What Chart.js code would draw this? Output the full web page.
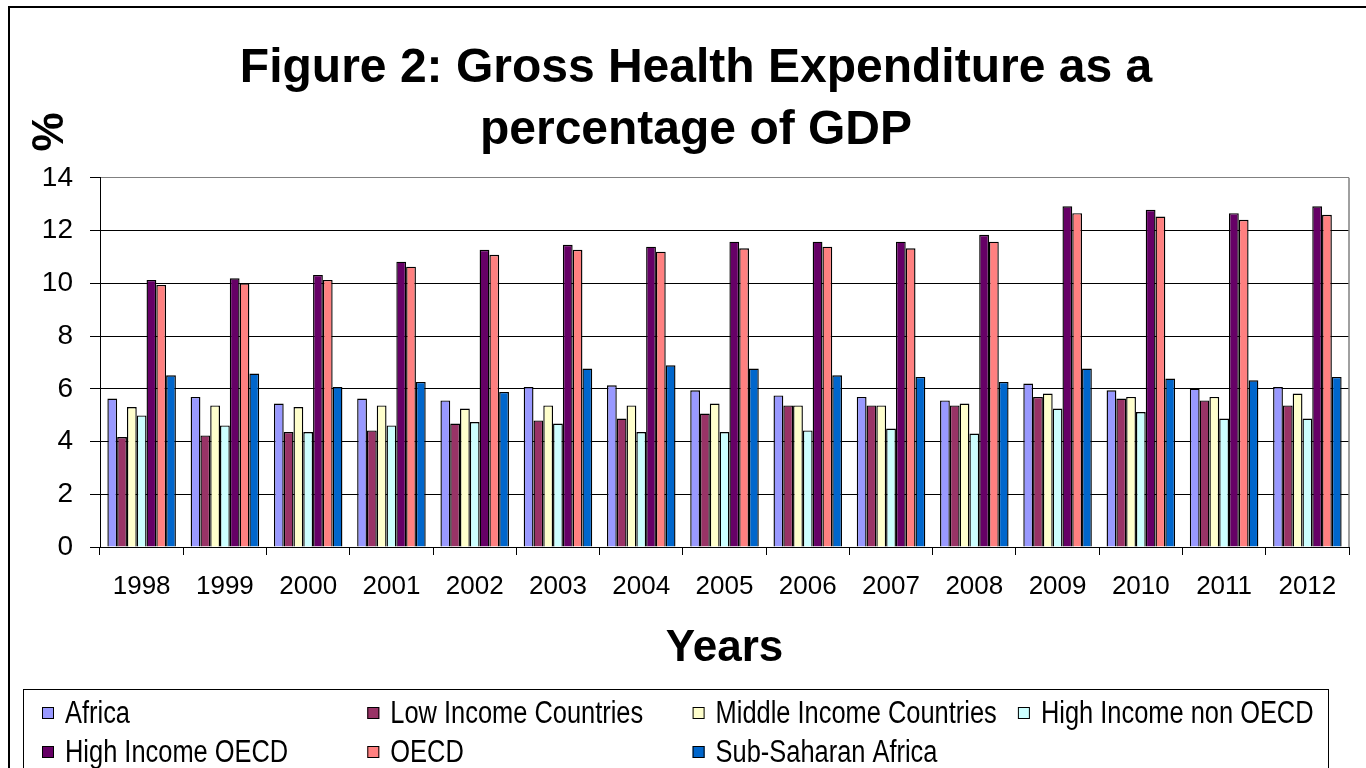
<!DOCTYPE html>
<html lang="en">
<head>
    <meta charset="UTF-8">
    <title>Gross Health Expenditure as a percentage of GDP</title>
    <script src="https://cdn.jsdelivr.net/npm/chart.js@4"></script>
    <style>
        body { margin: 0; background: #fff; }
        canvas { display: block; }
    </style>
</head>
<body>
    <canvas id="healthChart" width="1366" height="768"></canvas>

    <script>
        const FONT = "'Liberation Sans', Arial, sans-serif";

        // health expenditure, % of GDP
        const years = ['1998', '1999', '2000', '2001', '2002', '2003', '2004', '2005',
                       '2006', '2007', '2008', '2009', '2010', '2011', '2012'];
        const africa       = [5.63, 5.69, 5.44, 5.63, 5.56, 6.07, 6.13, 5.94, 5.75, 5.69, 5.56, 6.20, 5.94, 6.01, 6.07];
        const lowIncome    = [4.17, 4.23, 4.36, 4.42, 4.68, 4.80, 4.87, 5.06, 5.37, 5.37, 5.37, 5.69, 5.63, 5.56, 5.37];
        const middleIncome = [5.31, 5.37, 5.31, 5.37, 5.25, 5.37, 5.37, 5.44, 5.37, 5.37, 5.44, 5.82, 5.69, 5.69, 5.82];
        const highNonOecd  = [4.99, 4.61, 4.36, 4.61, 4.74, 4.68, 4.36, 4.36, 4.42, 4.49, 4.30, 5.25, 5.12, 4.87, 4.87];
        const highOecd     = [10.13, 10.19, 10.32, 10.82, 11.27, 11.46, 11.39, 11.58, 11.58, 11.58, 11.84, 12.92, 12.79, 12.66, 12.92];
        const oecd         = [9.94, 10.00, 10.13, 10.63, 11.08, 11.27, 11.20, 11.33, 11.39, 11.33, 11.58, 12.66, 12.53, 12.41, 12.60];
        const subSaharan   = [6.51, 6.58, 6.07, 6.26, 5.88, 6.77, 6.89, 6.77, 6.51, 6.45, 6.26, 6.77, 6.39, 6.32, 6.45];

        function bars(label, data, color) {
            return {
                label: label,
                data: data,
                backgroundColor: color,
                borderColor: '#000',
                borderWidth: 1.4,
                barPercentage: 1,
                categoryPercentage: 0.823
            };
        }

        // white background plus the outer frame line
        const framePlugin = {
            id: 'frame',
            beforeDraw(chart) {
                const ctx = chart.ctx;
                ctx.save();
                ctx.fillStyle = '#fff';
                ctx.fillRect(0, 0, chart.width, chart.height);
                ctx.strokeStyle = '#000';
                ctx.lineWidth = 2;
                ctx.beginPath();
                ctx.moveTo(9, chart.height + 5);
                ctx.lineTo(9, 7);
                ctx.lineTo(chart.width + 5, 7);
                ctx.stroke();
                ctx.restore();
            },
            beforeDatasetsDraw(chart) {
                // grey right edge of the plot area
                const { ctx, chartArea } = chart;
                ctx.save();
                ctx.strokeStyle = '#808080';
                ctx.lineWidth = 1.5;
                ctx.beginPath();
                ctx.moveTo(chartArea.right, chartArea.top);
                ctx.lineTo(chartArea.right, chartArea.bottom);
                ctx.stroke();
                ctx.restore();
            },
            afterDraw(chart) {
                // "%" unit label, rotated, at the top of the value axis
                const ctx = chart.ctx;
                ctx.save();
                ctx.translate(51, 132);
                ctx.rotate(-Math.PI / 2);
                ctx.font = 'bold 44px ' + FONT;
                ctx.fillStyle = '#000';
                ctx.textAlign = 'center';
                ctx.textBaseline = 'middle';
                ctx.fillText('%', 0, 0);
                ctx.restore();
            }
        };

        // boxed legend laid out in four columns
        const boxLegend = {
            id: 'boxLegend',
            afterDraw(chart) {
                const ctx = chart.ctx;
                ctx.save();
                ctx.strokeStyle = '#000';
                ctx.lineWidth = 1;
                ctx.strokeRect(23.5, 689.5, 1305, 120);
                ctx.font = '31px ' + FONT;
                ctx.textBaseline = 'middle';
                chart.data.datasets.forEach((ds, i) => {
                    const x = 42 + (i % 4) * 325.3;
                    const y = 713 + Math.floor(i / 4) * 39;
                    ctx.fillStyle = ds.backgroundColor;
                    ctx.fillRect(x, y - 6, 12, 12);
                    ctx.strokeRect(x + 0.5, y - 5.5, 11, 11);
                    ctx.save();
                    ctx.translate(x + 23, y + 1);
                    ctx.scale(0.82, 1);
                    ctx.fillStyle = '#000';
                    ctx.fillText(ds.label, 0, 0);
                    ctx.restore();
                });
                ctx.restore();
            }
        };

        const ctx = document.getElementById('healthChart').getContext('2d');

        new Chart(ctx, {
            type: 'bar',
            data: {
                labels: years,
                datasets: [
                    bars('Africa', africa, '#9999FF'),
                    bars('Low Income Countries', lowIncome, '#993366'),
                    bars('Middle Income Countries', middleIncome, '#FFFFCC'),
                    bars('High Income non OECD', highNonOecd, '#CCFFFF'),
                    bars('High Income OECD', highOecd, '#660066'),
                    bars('OECD', oecd, '#FF8080'),
                    bars('Sub-Saharan Africa', subSaharan, '#0066CC')
                ]
            },
            options: {
                responsive: false,
                animation: false,
                layout: {
                    autoPadding: false,
                    padding: { left: 43, right: 17, top: 0, bottom: 0 }
                },
                plugins: {
                    legend: { display: false },
                    tooltip: { enabled: false },
                    title: {
                        display: true,
                        text: ['Figure 2: Gross Health Expenditure as a', 'percentage of GDP'],
                        color: '#000',
                        font: { family: FONT, size: 48, weight: 'bold', lineHeight: 1.29 },
                        padding: { top: 38, bottom: 16 }
                    }
                },
                scales: {
                    x: {
                        afterFit(scale) { scale.height = 221; },
                        grid: {
                            drawOnChartArea: false,
                            offset: true,
                            color: '#000',
                            tickLength: 8
                        },
                        border: { color: '#000', width: 1 },
                        ticks: {
                            color: '#000',
                            font: { family: FONT, size: 26 },
                            padding: 16,
                            maxRotation: 0,
                            autoSkip: false
                        },
                        title: {
                            display: true,
                            text: 'Years',
                            color: '#000',
                            font: { family: FONT, size: 44, weight: 'bold' },
                            padding: { top: 0, bottom: 93 }
                        }
                    },
                    y: {
                        min: 0,
                        max: 14,
                        afterFit(scale) { scale.width = 57; },
                        grid: {
                            color: c => (c.tick && c.tick.value === 14) ? '#808080' : '#000',
                            tickColor: '#000',
                            tickLength: 10,
                            lineWidth: 1
                        },
                        border: { color: '#000', width: 1 },
                        ticks: {
                            stepSize: 2,
                            color: '#000',
                            font: { family: FONT, size: 28 },
                            padding: 17
                        }
                    }
                }
            },
            plugins: [framePlugin, boxLegend]
        });
    </script>
</body>
</html>
